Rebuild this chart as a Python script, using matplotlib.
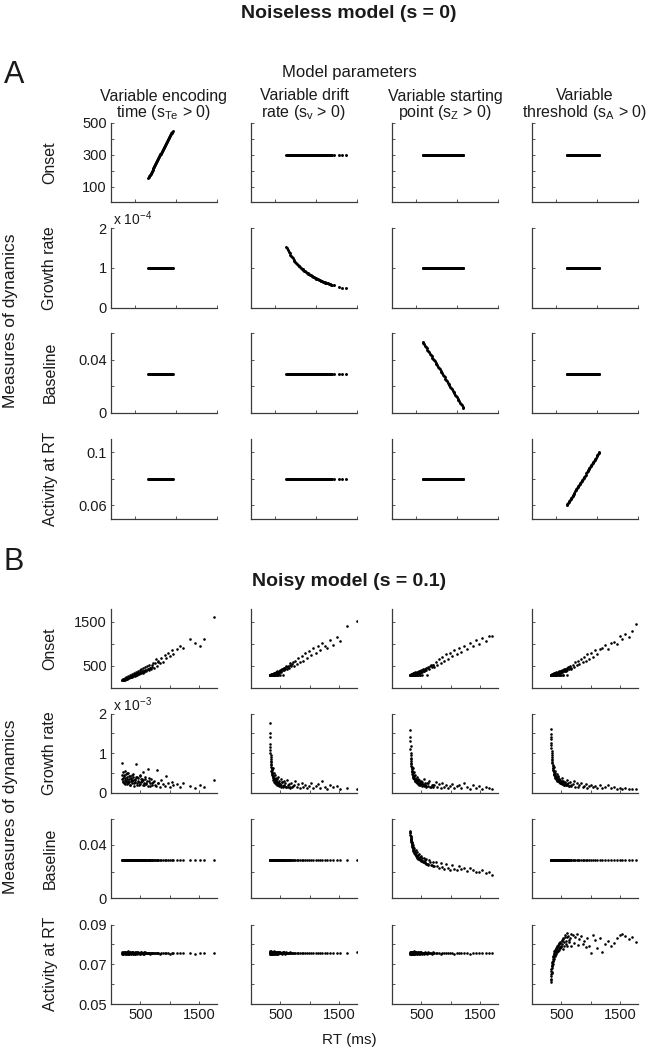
import numpy as np
import matplotlib.pyplot as plt

plt.rcParams['font.family'] = ['Liberation Sans', 'DejaVu Sans']
plt.rcParams['mathtext.fontset'] = 'custom'
plt.rcParams['mathtext.rm'] = 'Liberation Sans'
plt.rcParams['mathtext.it'] = 'Liberation Sans:italic'

# ---------------- labels ----------------
col_line1 = ['Variable encoding', 'Variable drift', 'Variable starting', 'Variable']
col_line2 = ['time (s$_{\\mathrm{Te}}$ > 0)', 'rate (s$_{\\mathrm{v}}$ > 0)',
             'point (s$_{\\mathrm{Z}}$ > 0)', 'threshold (s$_{\\mathrm{A}}$ > 0)']
row_labels = ['Onset', 'Growth rate', 'Baseline', 'Activity at RT']

# ---------------- data: A (noiseless model) ----------------
a_onset_const = 300
a_growth_const = 1.0      # x 1e-4
a_base_const = 0.029
a_act_const = 0.08

a_te_rt = [655, 661, 667, 673, 679, 685, 691, 697, 703, 709, 715, 721, 727,
           733, 739, 745, 751, 757, 763, 769, 775, 781, 787, 793, 799, 805,
           811, 817, 823, 829, 835, 841, 847, 853, 859, 865, 871, 877, 883,
           889, 895, 901, 907, 913, 919, 925, 931, 937, 943, 949, 955]
a_te_onset = [152, 158, 164, 170, 176, 182, 188, 194, 200, 206, 212, 218, 224,
              230, 236, 242, 248, 254, 260, 266, 272, 278, 284, 290, 296, 302,
              308, 314, 320, 326, 332, 338, 344, 350, 356, 362, 368, 374, 380,
              386, 392, 398, 404, 410, 416, 422, 428, 434, 440, 446, 452]

a_dr_rt = [633, 643, 653, 663, 673, 683, 693, 703, 713, 723, 733, 743, 753,
           763, 773, 783, 793, 803, 813, 823, 833, 843, 853, 863, 873, 883,
           893, 903, 913, 923, 933, 943, 953, 963, 973, 983, 993, 1003, 1013,
           1023, 1033, 1043, 1053, 1063, 1073, 1083, 1093, 1103, 1113, 1123,
           1133, 1143, 1153, 1163, 1173, 1183, 1193, 1215, 1280, 1322, 1363]
a_dr_growth = [1.532, 1.487, 1.445, 1.405, 1.367, 1.332, 1.298, 1.266, 1.235,
               1.206, 1.178, 1.151, 1.126, 1.102, 1.078, 1.056, 1.034, 1.014,
               0.994, 0.975, 0.957, 0.939, 0.922, 0.906, 0.890, 0.875, 0.860,
               0.846, 0.832, 0.819, 0.806, 0.793, 0.781, 0.769, 0.758, 0.747,
               0.736, 0.725, 0.715, 0.705, 0.696, 0.686, 0.677, 0.668, 0.660,
               0.651, 0.643, 0.635, 0.627, 0.620, 0.612, 0.605, 0.598, 0.591,
               0.584, 0.578, 0.571, 0.557, 0.520, 0.499, 0.480]

a_sp_rt = [575, 585, 595, 605, 615, 625, 635, 645, 655, 665, 675, 685, 695,
           705, 715, 725, 735, 745, 755, 765, 775, 785, 795, 805, 815, 825,
           835, 845, 855, 865, 875, 885, 895, 905, 915, 925, 935, 945, 955,
           965, 975, 985, 995, 1005, 1015, 1025, 1035, 1045, 1055, 1065, 1075]
a_sp_base = [0.0535, 0.0525, 0.0515, 0.0505, 0.0495, 0.0485, 0.0475, 0.0465,
             0.0455, 0.0445, 0.0435, 0.0425, 0.0415, 0.0405, 0.0395, 0.0385,
             0.0375, 0.0365, 0.0355, 0.0345, 0.0335, 0.0325, 0.0315, 0.0305,
             0.0295, 0.0285, 0.0275, 0.0265, 0.0255, 0.0245, 0.0235, 0.0225,
             0.0215, 0.0205, 0.0195, 0.0185, 0.0175, 0.0165, 0.0155, 0.0145,
             0.0135, 0.0125, 0.0115, 0.0105, 0.0095, 0.0085, 0.0075, 0.0065,
             0.0055, 0.0045, 0.0035]

a_th_rt = [625, 633, 641, 649, 657, 665, 673, 681, 689, 697, 705, 713, 721,
           729, 737, 745, 753, 761, 769, 777, 785, 793, 801, 809, 817, 825,
           833, 841, 849, 857, 865, 873, 881, 889, 897, 905, 913, 921, 929,
           937, 945, 953, 961, 969, 977, 985, 993, 1001, 1009, 1017, 1025]
a_th_act = [0.0600, 0.0608, 0.0616, 0.0624, 0.0632, 0.0640, 0.0648, 0.0656,
            0.0664, 0.0672, 0.0680, 0.0688, 0.0696, 0.0704, 0.0712, 0.0720,
            0.0728, 0.0736, 0.0744, 0.0752, 0.0760, 0.0768, 0.0776, 0.0784,
            0.0792, 0.0800, 0.0808, 0.0816, 0.0824, 0.0832, 0.0840, 0.0848,
            0.0856, 0.0864, 0.0872, 0.0880, 0.0888, 0.0896, 0.0904, 0.0912,
            0.0920, 0.0928, 0.0936, 0.0944, 0.0952, 0.0960, 0.0968, 0.0976,
            0.0984, 0.0992, 0.1000]

# ---------------- data: B (noisy model) ----------------
b_base_const = 0.029

# variable encoding time
b_te_rt = [185, 190, 198, 205, 212, 220, 228, 235, 242, 250,
           258, 265, 272, 280, 288, 295, 303, 310, 318, 326,
           334, 342, 350, 360, 370, 380, 390, 400, 412, 424,
           436, 448, 460, 475, 490, 505, 520, 535, 550, 565,
           580, 600, 620, 640, 660, 680, 700, 725, 750, 775,
           800, 825, 850, 880, 910, 940, 970, 1000, 1030, 1060,
           1120, 1176, 1222, 1335, 1420, 1506, 1585, 1744,
           195, 208, 218, 232, 246, 262, 276, 292, 306, 322,
           338, 355, 372, 388, 405, 420, 440, 456, 470, 485,
           500, 515, 530, 545, 560, 575, 590, 610, 630, 650,
           670, 690, 715, 760, 790]
b_te_onset = [178, 170, 190, 176, 198, 184, 206, 192, 214, 198,
              222, 206, 232, 214, 240, 222, 250, 230, 258, 238,
              266, 246, 276, 256, 288, 266, 300, 276, 316, 290,
              330, 300, 346, 318, 362, 334, 380, 350, 396, 364,
              410, 380, 432, 400, 452, 420, 480, 450, 560, 500,
              620, 560, 680, 600, 740, 680, 800, 720, 860, 780,
              880, 940, 900, 1110, 1020, 960, 1120, 1610,
              180, 205, 185, 235, 205, 255, 225, 280, 240, 300,
              255, 320, 275, 345, 290, 365, 310, 385, 330, 405,
              345, 430, 360, 445, 380, 470, 400, 490, 420, 510,
              445, 530, 560, 650, 580]
b_te_growth = [0.75, 0.45, 0.30, 0.52, 0.38, 0.25, 0.42, 0.55, 0.33, 0.28,
               0.48, 0.36, 0.22, 0.40, 0.31, 0.50, 0.27, 0.35, 0.44, 0.20,
               0.38, 0.30, 0.46, 0.25, 0.33, 0.41, 0.18, 0.36, 0.28, 0.72,
               0.24, 0.39, 0.30, 0.21, 0.45, 0.27, 0.35, 0.19, 0.32, 0.26,
               0.40, 0.22, 0.60, 0.29, 0.18, 0.34, 0.25, 0.30, 0.20, 0.57,
               0.26, 0.16, 0.32, 0.22, 0.18, 0.42, 0.24, 0.15, 0.27, 0.20,
               0.22, 0.14, 0.25, 0.18, 0.12, 0.20, 0.15, 0.32,
               0.35, 0.28, 0.45, 0.22, 0.38, 0.31, 0.50, 0.26, 0.42, 0.19,
               0.36, 0.29, 0.47, 0.24, 0.33, 0.40, 0.21, 0.37, 0.27, 0.44,
               0.23, 0.34, 0.30, 0.52, 0.20, 0.36, 0.26, 0.31, 0.17, 0.38,
               0.24, 0.21, 0.28, 0.18, 0.24]
b_te_act = [0.0753, 0.0761, 0.0757, 0.0764, 0.0751, 0.0759, 0.0755, 0.0762, 0.0750, 0.0758,
            0.0756, 0.0763, 0.0752, 0.0760, 0.0754, 0.0765, 0.0757, 0.0751, 0.0761, 0.0755,
            0.0759, 0.0753, 0.0762, 0.0756, 0.0750, 0.0760, 0.0757, 0.0763, 0.0754, 0.0758,
            0.0752, 0.0761, 0.0756, 0.0759, 0.0753, 0.0760, 0.0755, 0.0758, 0.0754, 0.0761,
            0.0756, 0.0759, 0.0755, 0.0757, 0.0754, 0.0758, 0.0756, 0.0757, 0.0755, 0.0758,
            0.0756, 0.0754, 0.0757, 0.0755, 0.0758, 0.0756, 0.0757, 0.0754, 0.0756, 0.0757,
            0.0756, 0.0758, 0.0755, 0.0757, 0.0754, 0.0758, 0.0756, 0.0757,
            0.0758, 0.0752, 0.0762, 0.0755, 0.0760, 0.0753, 0.0764, 0.0757, 0.0751, 0.0761,
            0.0756, 0.0763, 0.0754, 0.0759, 0.0752, 0.0762, 0.0757, 0.0760, 0.0755, 0.0758,
            0.0753, 0.0761, 0.0756, 0.0759, 0.0754, 0.0760, 0.0757, 0.0758, 0.0755, 0.0759,
            0.0756, 0.0758, 0.0757, 0.0756, 0.0757]

# variable drift rate
b_dr_rt = [318, 322, 326, 330, 334, 338, 342, 346, 350, 355,
           360, 365, 370, 376, 382, 388, 395, 402, 410, 418,
           426, 435, 444, 453, 462, 472, 482, 492, 503, 515,
           527, 540, 553, 567, 581, 596, 612, 628, 645, 663,
           682, 702, 725, 750, 775, 800, 830, 860, 890, 920,
           955, 990, 1025, 1060, 1100, 1140, 1175, 1210, 1250, 1290,
           1340, 1400, 1460, 1519, 1633, 1792,
           320, 324, 328, 332, 336, 340, 344, 348, 352, 358,
           363, 368, 374, 380, 386, 392, 400, 408, 416, 424,
           432, 441, 450, 460, 470, 480, 495, 510, 525, 545,
           565, 590, 620, 660, 710]
b_dr_onset = [300, 300, 300, 300, 305, 300, 300, 310, 300, 300,
              315, 300, 300, 325, 300, 335, 300, 345, 300, 360,
              330, 300, 375, 345, 300, 390, 360, 300, 410, 375,
              430, 300, 400, 450, 420, 470, 440, 500, 460, 520,
              490, 550, 500, 620, 540, 680, 590, 720, 620, 790,
              680, 840, 740, 900, 800, 960, 850, 1015, 940, 900,
              1090, 980, 1150, 1060, 1400, 1518,
              300, 300, 300, 300, 300, 300, 300, 300, 310, 300,
              300, 320, 300, 300, 340, 300, 330, 300, 350, 310,
              300, 360, 335, 300, 370, 345, 400, 370, 440, 410,
              460, 490, 470, 560, 580]
b_dr_growth = [1.77, 1.52, 1.23, 1.08, 0.95, 0.85, 0.78, 0.70, 0.64, 0.58,
               0.53, 0.48, 0.62, 0.44, 0.40, 0.50, 0.36, 0.33, 0.45, 0.30,
               0.38, 0.27, 0.34, 0.25, 0.40, 0.23, 0.31, 0.21, 0.35, 0.20,
               0.28, 0.18, 0.30, 0.17, 0.25, 0.16, 0.33, 0.15, 0.22, 0.15,
               0.26, 0.14, 0.20, 0.30, 0.14, 0.22, 0.13, 0.26, 0.15, 0.20,
               0.12, 0.18, 0.24, 0.13, 0.17, 0.22, 0.12, 0.30, 0.16, 0.11,
               0.20, 0.14, 0.18, 0.10, 0.13, 0.10,
               1.40, 1.15, 1.00, 0.90, 0.80, 0.72, 0.66, 0.55, 0.60, 0.45,
               0.50, 0.38, 0.42, 0.33, 0.37, 0.28, 0.31, 0.25, 0.35, 0.22,
               0.29, 0.20, 0.26, 0.19, 0.24, 0.17, 0.22, 0.16, 0.27, 0.15,
               0.21, 0.14, 0.19, 0.13, 0.17]
b_dr_act = [0.0754, 0.0762, 0.0757, 0.0765, 0.0752, 0.0760, 0.0756, 0.0763, 0.0751, 0.0759,
            0.0757, 0.0764, 0.0753, 0.0761, 0.0755, 0.0766, 0.0758, 0.0752, 0.0762, 0.0756,
            0.0760, 0.0754, 0.0763, 0.0757, 0.0751, 0.0761, 0.0758, 0.0764, 0.0755, 0.0759,
            0.0753, 0.0762, 0.0757, 0.0760, 0.0754, 0.0761, 0.0756, 0.0759, 0.0755, 0.0760,
            0.0757, 0.0759, 0.0756, 0.0758, 0.0755, 0.0759, 0.0757, 0.0758, 0.0756, 0.0759,
            0.0757, 0.0755, 0.0758, 0.0756, 0.0759, 0.0757, 0.0758, 0.0755, 0.0757, 0.0758,
            0.0757, 0.0759, 0.0756, 0.0758, 0.0757, 0.0760,
            0.0759, 0.0753, 0.0763, 0.0756, 0.0761, 0.0754, 0.0765, 0.0758, 0.0752, 0.0762,
            0.0757, 0.0764, 0.0755, 0.0760, 0.0753, 0.0763, 0.0758, 0.0761, 0.0756, 0.0759,
            0.0754, 0.0762, 0.0757, 0.0760, 0.0755, 0.0761, 0.0758, 0.0759, 0.0756, 0.0760,
            0.0757, 0.0759, 0.0758, 0.0757, 0.0758]

# variable starting point
b_sp_rt = [307, 311, 315, 319, 323, 327, 331, 335, 340, 345,
           350, 356, 362, 368, 375, 382, 390, 398, 406, 415,
           424, 433, 443, 453, 464, 475, 487, 499, 512, 525,
           539, 553, 568, 584, 600, 617, 635, 654, 674, 695,
           720, 745, 770, 795, 825, 855, 885, 915, 950, 985,
           1020, 1060, 1100, 1140, 1180, 1220, 1270, 1320, 1370, 1420,
           1472, 1530, 1590, 1640, 1699,
           309, 313, 317, 321, 325, 329, 333, 338, 343, 348,
           353, 359, 365, 372, 379, 386, 394, 402, 411, 420,
           429, 438, 448, 458, 469, 480, 493, 506, 520, 535,
           555, 578, 605, 640, 690]
b_sp_onset = [300, 300, 300, 305, 300, 300, 300, 315, 300, 300,
              320, 300, 300, 335, 300, 345, 300, 355, 320, 300,
              370, 340, 300, 385, 350, 300, 400, 365, 300, 420,
              385, 440, 405, 460, 300, 480, 440, 510, 470, 530,
              480, 600, 530, 650, 570, 700, 610, 760, 660, 800,
              720, 860, 780, 900, 820, 960, 880, 1030, 940, 1080,
              1000, 1140, 1060, 1170, 1185,
              300, 300, 300, 300, 300, 310, 300, 300, 300, 318,
              300, 300, 330, 300, 340, 300, 300, 350, 315, 300,
              360, 330, 300, 375, 340, 300, 390, 355, 410, 375,
              430, 400, 460, 490, 520]
b_sp_growth = [1.58, 1.42, 1.17, 1.00, 0.88, 0.80, 0.72, 0.65, 0.60, 0.55,
               0.50, 0.62, 0.46, 0.42, 0.52, 0.38, 0.35, 0.45, 0.32, 0.30,
               0.40, 0.28, 0.36, 0.26, 0.33, 0.24, 0.30, 0.22, 0.28, 0.20,
               0.34, 0.19, 0.26, 0.18, 0.24, 0.17, 0.30, 0.16, 0.21, 0.15,
               0.20, 0.27, 0.14, 0.22, 0.13, 0.25, 0.15, 0.19, 0.12, 0.18,
               0.22, 0.13, 0.17, 0.20, 0.12, 0.26, 0.15, 0.11, 0.19, 0.13,
               0.17, 0.10, 0.14, 0.12, 0.10,
               1.30, 1.10, 0.95, 0.85, 0.76, 0.68, 0.62, 0.56, 0.52, 0.48,
               0.44, 0.40, 0.37, 0.34, 0.42, 0.31, 0.29, 0.36, 0.27, 0.25,
               0.32, 0.23, 0.29, 0.21, 0.27, 0.20, 0.25, 0.18, 0.23, 0.17,
               0.21, 0.16, 0.24, 0.15, 0.19]
b_sp_base = [0.0509, 0.0490, 0.0470, 0.0455, 0.0440, 0.0425, 0.0448, 0.0410, 0.0398, 0.0420,
             0.0385, 0.0375, 0.0398, 0.0365, 0.0355, 0.0380, 0.0345, 0.0335, 0.0360, 0.0325,
             0.0318, 0.0345, 0.0310, 0.0302, 0.0330, 0.0295, 0.0288, 0.0318, 0.0282, 0.0276,
             0.0305, 0.0270, 0.0265, 0.0295, 0.0260, 0.0255, 0.0285, 0.0250, 0.0246, 0.0275,
             0.0242, 0.0268, 0.0238, 0.0225, 0.0262, 0.0232, 0.0220, 0.0255, 0.0228, 0.0215,
             0.0248, 0.0222, 0.0212, 0.0238, 0.0218, 0.0230, 0.0205, 0.0225, 0.0212, 0.0200,
             0.0197, 0.0208, 0.0192, 0.0200, 0.0177,
             0.0500, 0.0478, 0.0462, 0.0448, 0.0436, 0.0430, 0.0415, 0.0405, 0.0392, 0.0388,
             0.0370, 0.0365, 0.0352, 0.0358, 0.0340, 0.0330, 0.0338, 0.0320, 0.0328, 0.0312,
             0.0305, 0.0322, 0.0298, 0.0292, 0.0310, 0.0285, 0.0280, 0.0300, 0.0272, 0.0268,
             0.0290, 0.0258, 0.0252, 0.0270, 0.0245]
b_sp_act = [0.0753, 0.0761, 0.0756, 0.0764, 0.0751, 0.0759, 0.0755, 0.0762, 0.0750, 0.0758,
            0.0756, 0.0763, 0.0752, 0.0760, 0.0754, 0.0765, 0.0757, 0.0751, 0.0761, 0.0755,
            0.0759, 0.0753, 0.0762, 0.0756, 0.0750, 0.0760, 0.0757, 0.0763, 0.0754, 0.0758,
            0.0752, 0.0761, 0.0756, 0.0759, 0.0753, 0.0760, 0.0755, 0.0758, 0.0754, 0.0761,
            0.0756, 0.0759, 0.0755, 0.0757, 0.0754, 0.0758, 0.0756, 0.0757, 0.0755, 0.0758,
            0.0756, 0.0754, 0.0757, 0.0755, 0.0758, 0.0756, 0.0757, 0.0754, 0.0756, 0.0757,
            0.0756, 0.0758, 0.0755, 0.0757, 0.0756,
            0.0758, 0.0752, 0.0762, 0.0755, 0.0760, 0.0753, 0.0764, 0.0757, 0.0751, 0.0761,
            0.0756, 0.0763, 0.0754, 0.0759, 0.0752, 0.0762, 0.0757, 0.0760, 0.0755, 0.0758,
            0.0753, 0.0761, 0.0756, 0.0759, 0.0754, 0.0760, 0.0757, 0.0758, 0.0755, 0.0759,
            0.0756, 0.0758, 0.0757, 0.0756, 0.0757]

# variable threshold
b_th_rt = [318, 322, 326, 330, 334, 338, 342, 347, 352, 357,
           362, 368, 374, 380, 387, 394, 401, 409, 417, 425,
           434, 443, 452, 462, 472, 483, 494, 506, 518, 531,
           544, 558, 572, 587, 602, 618, 635, 652, 670, 690,
           712, 735, 758, 782, 806, 832, 858, 885, 912, 940,
           970, 1000, 1035, 1070, 1105, 1150, 1195, 1240, 1285, 1335,
           1385, 1440, 1495, 1523, 1580, 1640, 1700, 1761,
           320, 324, 328, 332, 336, 340, 345, 350, 355, 360,
           366, 372, 378, 385, 392, 399, 407, 415, 423, 432,
           441, 450, 460, 470, 481, 492, 504, 516, 530, 545,
           560, 580, 600, 625, 655]
b_th_onset = [300, 300, 300, 305, 300, 300, 300, 312, 300, 300,
              318, 300, 300, 330, 300, 340, 300, 350, 325, 300,
              365, 340, 300, 380, 350, 300, 395, 365, 300, 415,
              380, 430, 395, 450, 300, 470, 430, 495, 455, 520,
              470, 580, 510, 620, 545, 660, 580, 710, 620, 760,
              660, 800, 700, 850, 760, 880, 900, 980, 880, 1030,
              1050, 1000, 1180, 1120, 1220, 1150, 1280, 1459,
              300, 300, 300, 300, 300, 308, 300, 300, 300, 320,
              300, 300, 335, 300, 345, 300, 300, 355, 320, 300,
              370, 340, 300, 385, 350, 300, 400, 370, 300, 420,
              390, 440, 410, 470, 440]
b_th_growth = [1.62, 1.48, 1.35, 1.20, 1.05, 0.95, 0.85, 0.78, 0.70, 0.64,
               0.58, 0.53, 0.66, 0.48, 0.44, 0.55, 0.40, 0.37, 0.48, 0.34,
               0.31, 0.42, 0.29, 0.36, 0.27, 0.33, 0.25, 0.38, 0.23, 0.30,
               0.21, 0.27, 0.20, 0.33, 0.19, 0.25, 0.18, 0.28, 0.17, 0.22,
               0.30, 0.16, 0.24, 0.15, 0.20, 0.26, 0.14, 0.18, 0.22, 0.13,
               0.17, 0.21, 0.14, 0.18, 0.12, 0.20, 0.13, 0.16, 0.19, 0.12,
               0.15, 0.11, 0.13, 0.10, 0.12, 0.09, 0.11, 0.10,
               1.40, 1.25, 1.12, 1.00, 0.90, 0.82, 0.75, 0.68, 0.62, 0.57,
               0.52, 0.48, 0.45, 0.41, 0.50, 0.38, 0.35, 0.44, 0.32, 0.30,
               0.39, 0.28, 0.34, 0.26, 0.31, 0.24, 0.29, 0.22, 0.27, 0.20,
               0.25, 0.19, 0.23, 0.17, 0.21]
b_th_act = [0.0609, 0.0640, 0.0665, 0.0625, 0.0690, 0.0655, 0.0705, 0.0680, 0.0715, 0.0735,
            0.0700, 0.0745, 0.0725, 0.0757, 0.0740, 0.0765, 0.0750, 0.0775, 0.0760, 0.0785,
            0.0768, 0.0790, 0.0772, 0.0800, 0.0780, 0.0808, 0.0785, 0.0815, 0.0778, 0.0825,
            0.0792, 0.0835, 0.0800, 0.0855, 0.0794, 0.0840, 0.0810, 0.0830, 0.0790, 0.0848,
            0.0805, 0.0835, 0.0850, 0.0795, 0.0825, 0.0842, 0.0800, 0.0815, 0.0785, 0.0830,
            0.0790, 0.0757, 0.0848, 0.0820, 0.0780, 0.0830, 0.0760, 0.0800, 0.0815, 0.0790,
            0.0805, 0.0830, 0.0845, 0.0850, 0.0841, 0.0825, 0.0835, 0.0811,
            0.0620, 0.0650, 0.0675, 0.0695, 0.0660, 0.0710, 0.0690, 0.0725, 0.0740, 0.0715,
            0.0750, 0.0735, 0.0765, 0.0748, 0.0770, 0.0760, 0.0782, 0.0768, 0.0790, 0.0775,
            0.0795, 0.0780, 0.0805, 0.0788, 0.0812, 0.0792, 0.0820, 0.0800, 0.0832, 0.0810,
            0.0845, 0.0815, 0.0838, 0.0822, 0.0850]

# ---------------- layout (pixels) ----------------
W, H = 650, 1049
col_left = [111, 251, 392, 532]
AX_W, AX_H = 106, 79.5
rows_top_a = [123, 228, 333, 439]
rows_top_b = [608.5, 713.5, 818.5, 924.5]
INK = '#1a1a1a'
AXC = '#3a3a3a'

fig = plt.figure(figsize=(W / 100, H / 100), dpi=100)


def px(x, y):
    return x / W, 1 - y / H


def make_ax(left, top):
    ax = fig.add_axes([left / W, 1 - (top + AX_H) / H, AX_W / W, AX_H / H])
    for s in ['top', 'right']:
        ax.spines[s].set_visible(False)
    for s in ['left', 'bottom']:
        ax.spines[s].set_color(AXC)
        ax.spines[s].set_linewidth(0.9)
    ax.tick_params(direction='in', length=2.5, width=0.6, colors=AXC,
                   labelcolor=INK, labelsize=10.5, pad=3)
    ax.patch.set_alpha(0)
    return ax


def dots(ax, x, y, s=3.0):
    ax.scatter(x, y, s=s, c='k', marker='o', linewidths=0)


# y-axis settings per row: (lim, ticks, labels)
a_rows = [((0, 500), [0, 100, 200, 300, 400, 500], ['', '100', '', '300', '', '500']),
          ((0, 2), [0, 1, 2], ['0', '1', '2']),
          ((0, 0.06), [0, 0.02, 0.04, 0.06], ['0', '', '0.04', '']),
          ((0.05, 0.11), [0.06, 0.08, 0.10], ['0.06', '', '0.1'])]
b_rows = [((0, 1800), [0, 500, 1000, 1500], ['', '500', '', '1500']),
          ((0, 2), [0, 0.5, 1, 1.5, 2], ['0', '', '1', '', '2']),
          ((0, 0.06), [0, 0.02, 0.04, 0.06], ['0', '', '0.04', '']),
          ((0.05, 0.09), [0.05, 0.06, 0.07, 0.08, 0.09], ['0.05', '', '0.07', '', '0.09'])]

# ---------------- panel A ----------------
a_data = [
    [(a_te_rt, a_te_onset), (a_te_rt, [a_growth_const] * len(a_te_rt)),
     (a_te_rt, [a_base_const] * len(a_te_rt)), (a_te_rt, [a_act_const] * len(a_te_rt))],
    [(a_dr_rt, [a_onset_const] * len(a_dr_rt)), (a_dr_rt, a_dr_growth),
     (a_dr_rt, [a_base_const] * len(a_dr_rt)), (a_dr_rt, [a_act_const] * len(a_dr_rt))],
    [(a_sp_rt, [a_onset_const] * len(a_sp_rt)), (a_sp_rt, [a_growth_const] * len(a_sp_rt)),
     (a_sp_rt, a_sp_base), (a_sp_rt, [a_act_const] * len(a_sp_rt))],
    [(a_th_rt, [a_onset_const] * len(a_th_rt)), (a_th_rt, [a_growth_const] * len(a_th_rt)),
     (a_th_rt, [a_base_const] * len(a_th_rt)), (a_th_rt, a_th_act)],
]

for c in range(4):
    for r in range(4):
        ax = make_ax(col_left[c], rows_top_a[r])
        x, y = a_data[c][r]
        dots(ax, x, y, s=4.5)
        ax.set_xlim(200, 1500)
        ax.set_xticks([500, 1000, 1500], labels=['', '', ''])
        lim, ticks, labels = a_rows[r]
        ax.set_ylim(*lim)
        if c == 0:
            ax.set_yticks(ticks, labels=labels)
        else:
            ax.set_yticks(ticks, labels=[''] * len(ticks))
        if c == 0 and r == 1:
            ax.text(0.02, 1.0, 'x 10$^{-4}$', transform=ax.transAxes,
                    fontsize=10, color=INK, va='bottom', ha='left')

# ---------------- panel B ----------------
b_data = [
    [b_te_rt, b_te_onset, b_te_growth, [b_base_const] * len(b_te_rt), b_te_act],
    [b_dr_rt, b_dr_onset, b_dr_growth, [b_base_const] * len(b_dr_rt), b_dr_act],
    [b_sp_rt, b_sp_onset, b_sp_growth, b_sp_base, b_sp_act],
    [b_th_rt, b_th_onset, b_th_growth, [b_base_const] * len(b_th_rt), b_th_act],
]

for c in range(4):
    rt = b_data[c][0]
    for r in range(4):
        ax = make_ax(col_left[c], rows_top_b[r])
        dots(ax, rt, b_data[c][r + 1], s=3.5)
        ax.set_xlim(0, 1800)
        if r == 3:
            ax.set_xticks([500, 1000, 1500], labels=['500', '', '1500'])
        else:
            ax.set_xticks([500, 1000, 1500], labels=['', '', ''])
        lim, ticks, labels = b_rows[r]
        ax.set_ylim(*lim)
        if c == 0:
            ax.set_yticks(ticks, labels=labels)
        else:
            ax.set_yticks(ticks, labels=[''] * len(ticks))
        if c == 0 and r == 1:
            ax.text(0.02, 1.0, 'x 10$^{-3}$', transform=ax.transAxes,
                    fontsize=10, color=INK, va='bottom', ha='left')

# ---------------- text ----------------
fig.text(*px(349, 14), 'Noiseless model (s = 0)', ha='center', va='center',
         fontsize=14, fontweight='bold', color=INK)
fig.text(*px(349, 581), 'Noisy model (s = 0.1)', ha='center', va='center',
         fontsize=14, fontweight='bold', color=INK)
fig.text(*px(4, 75), 'A', ha='left', va='center', fontsize=22, color=INK)
fig.text(*px(4, 562), 'B', ha='left', va='center', fontsize=22, color=INK)
fig.text(*px(349, 73), 'Model parameters', ha='center', va='center',
         fontsize=12, color=INK)

for c in range(4):
    cx = col_left[c] + AX_W / 2
    fig.text(*px(cx, 96), col_line1[c], ha='center', va='center',
             fontsize=11.5, color=INK)
    fig.text(*px(cx, 113), col_line2[c], ha='center', va='center',
             fontsize=11.5, color=INK)

for tops in (rows_top_a, rows_top_b):
    for r in range(4):
        fig.text(*px(50, tops[r] + AX_H / 2), row_labels[r], rotation=90,
                 ha='center', va='center', fontsize=11.5, color=INK)
    fig.text(*px(11, (tops[0] + tops[3] + AX_H) / 2), 'Measures of dynamics',
             rotation=90, ha='center', va='center', fontsize=12.5, color=INK)

fig.text(*px(349, 1040), 'RT (ms)', ha='center', va='center', fontsize=11, color=INK)

fig.savefig('out.png', dpi=100)
